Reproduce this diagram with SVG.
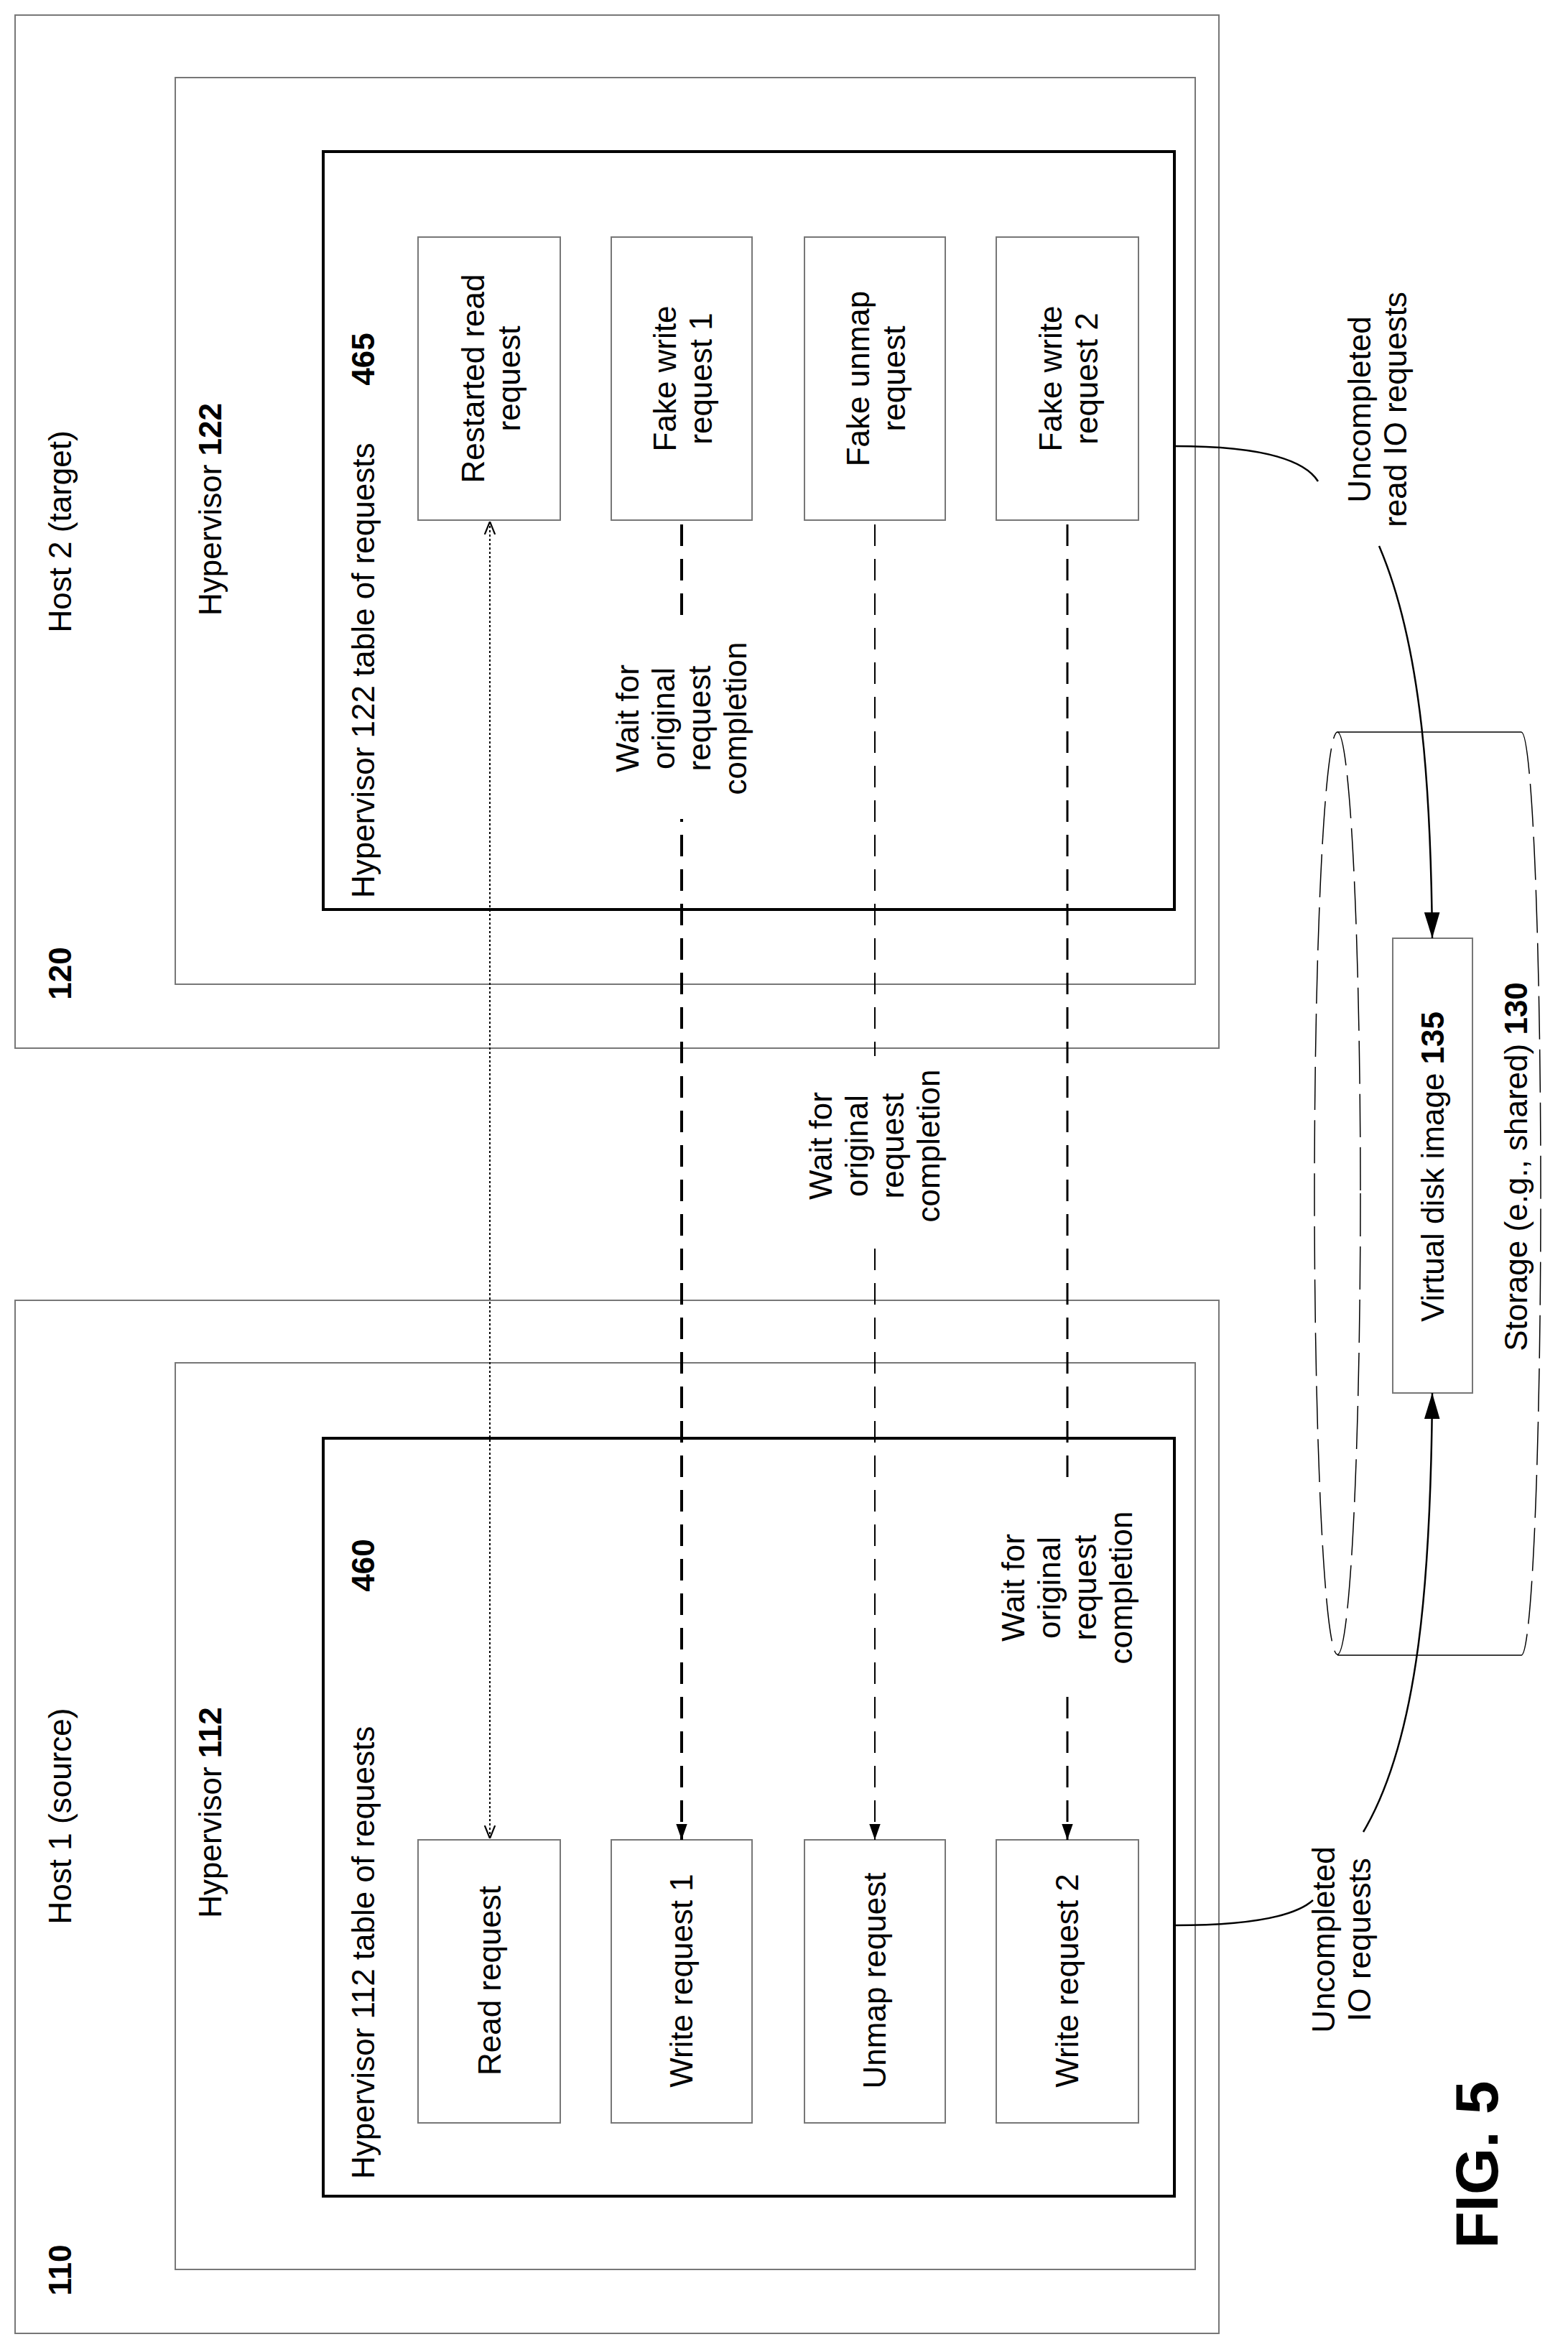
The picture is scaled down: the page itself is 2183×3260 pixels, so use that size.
<svg xmlns="http://www.w3.org/2000/svg" width="2183" height="3260" viewBox="0 0 2183 3260">
<style>
text{font-family:"Liberation Sans",Arial,sans-serif;font-size:44px;fill:#000}
.b{font-weight:bold}
.g{fill:none;stroke:#777;stroke-width:2}
.t{fill:none;stroke:#000;stroke-width:4}
.r{fill:#fff;stroke:#777;stroke-width:2}
.c{fill:none;stroke:#000;stroke-width:2.5}
</style>
<defs>
<marker id="fa" viewBox="0 0 10 10" refX="10" refY="5" markerWidth="36" markerHeight="36" markerUnits="userSpaceOnUse" orient="auto"><path d="M0,2 L10,5 L0,8 Z" fill="#000"/></marker>
<marker id="fa2" viewBox="0 0 10 10" refX="10" refY="5" markerWidth="22" markerHeight="22" markerUnits="userSpaceOnUse" orient="auto"><path d="M0,1.5 L10,5 L0,8.5 Z" fill="#000"/></marker>
<marker id="oa" viewBox="0 0 10 10" refX="10" refY="5" markerWidth="18" markerHeight="18" markerUnits="userSpaceOnUse" orient="auto-start-reverse"><path d="M0,1 L10,5 L0,9" fill="none" stroke="#000" stroke-width="1.2"/></marker>
</defs>
<rect width="2183" height="3260" fill="#fff"/>
<g id="host2">
<rect class="g" x="21" y="21" width="1676" height="1438"/>
<text class="b" transform="translate(99,1355) rotate(-90)" text-anchor="middle">120</text>
<text transform="translate(99,740) rotate(-90)" text-anchor="middle">Host 2 (target)</text>
<rect class="g" x="244" y="108" width="1420" height="1262"/>
<text transform="translate(308,709) rotate(-90)" text-anchor="middle">Hypervisor <tspan class="b">122</tspan></text>
<rect class="t" x="450" y="211" width="1185" height="1055"/>
<text transform="translate(521,1250) rotate(-90)">Hypervisor 122 table of requests</text>
<text class="b" transform="translate(521,500) rotate(-90)" text-anchor="middle">465</text>
</g>
<g id="h2reqs">
<rect class="r" x="582" y="330" width="198" height="394"/>
<text transform="translate(682,527) rotate(-90)" text-anchor="middle"><tspan x="0" y="-8">Restarted read</tspan><tspan x="0" y="42">request</tspan></text>
<rect class="r" x="851" y="330" width="196" height="394"/>
<text transform="translate(949,527) rotate(-90)" text-anchor="middle"><tspan x="0" y="-8">Fake write</tspan><tspan x="0" y="42">request 1</tspan></text>
<rect class="r" x="1120" y="330" width="196" height="394"/>
<text transform="translate(1218,527) rotate(-90)" text-anchor="middle"><tspan x="0" y="-8">Fake unmap</tspan><tspan x="0" y="42">request</tspan></text>
<rect class="r" x="1387" y="330" width="198" height="394"/>
<text transform="translate(1486,527) rotate(-90)" text-anchor="middle"><tspan x="0" y="-8">Fake write</tspan><tspan x="0" y="42">request 2</tspan></text>
</g>
<g id="host1">
<rect class="g" x="21" y="1810" width="1676" height="1438"/>
<text class="b" transform="translate(99,3160) rotate(-90)" text-anchor="middle">110</text>
<text transform="translate(99,2528) rotate(-90)" text-anchor="middle">Host 1 (source)</text>
<rect class="g" x="244" y="1897" width="1420" height="1262"/>
<text transform="translate(308,2523) rotate(-90)" text-anchor="middle">Hypervisor <tspan class="b">112</tspan></text>
<rect class="t" x="450" y="2002" width="1185" height="1055"/>
<text transform="translate(521,3033) rotate(-90)">Hypervisor 112 table of requests</text>
<text class="b" transform="translate(521,2179) rotate(-90)" text-anchor="middle">460</text>
</g>
<g id="h1reqs">
<rect class="r" x="582" y="2561" width="198" height="394"/>
<text transform="translate(697,2757) rotate(-90)" text-anchor="middle">Read request</text>
<rect class="r" x="851" y="2561" width="196" height="394"/>
<text transform="translate(964,2757) rotate(-90)" text-anchor="middle">Write request 1</text>
<rect class="r" x="1120" y="2561" width="196" height="394"/>
<text transform="translate(1233,2757) rotate(-90)" text-anchor="middle">Unmap request</text>
<rect class="r" x="1387" y="2561" width="198" height="394"/>
<text transform="translate(1501,2757) rotate(-90)" text-anchor="middle">Write request 2</text>
</g>
<g id="storage">
<path d="M1862,1019 H2118 M1862,2304 H2118" fill="none" stroke="#000" stroke-width="1.5"/>
<ellipse cx="1862" cy="1661" rx="32" ry="642" fill="none" stroke="#000" stroke-width="1.5" stroke-dasharray="60,14"/>
<path d="M2118,1019 A27,642 0 0 1 2118,2304" fill="none" stroke="#000" stroke-width="1.5" stroke-dasharray="60,14"/>
<rect class="r" x="1939" y="1306" width="111" height="633"/>
<text transform="translate(2010,1624) rotate(-90)" text-anchor="middle">Virtual disk image <tspan class="b">135</tspan></text>
<text transform="translate(2126,1624) rotate(-90)" text-anchor="middle">Storage (e.g., shared)    <tspan class="b">130</tspan></text>
</g>
<g id="connectors">
<line x1="682" y1="726" x2="682" y2="2559" stroke="#000" stroke-width="2" stroke-dasharray="3,3" marker-start="url(#oa)" marker-end="url(#oa)"/>
<line x1="949" y1="730" x2="949" y2="2561" stroke="#000" stroke-width="4" stroke-dasharray="30,18" marker-end="url(#fa2)"/>
<line x1="1218" y1="730" x2="1218" y2="2561" stroke="#000" stroke-width="2" stroke-dasharray="30,18" marker-end="url(#fa2)"/>
<line x1="1486" y1="730" x2="1486" y2="2561" stroke="#000" stroke-width="3" stroke-dasharray="30,18" marker-end="url(#fa2)"/>
<rect x="820" y="860" width="260" height="280" fill="#fff"/>
<text transform="translate(949,1000) rotate(-90)" text-anchor="middle"><tspan x="0" y="-60">Wait for</tspan><tspan x="0" y="-10">original</tspan><tspan x="0" y="40">request</tspan><tspan x="0" y="90">completion</tspan></text>
<rect x="1090" y="1470" width="260" height="260" fill="#fff"/>
<text transform="translate(1218,1595) rotate(-90)" text-anchor="middle"><tspan x="0" y="-60">Wait for</tspan><tspan x="0" y="-10">original</tspan><tspan x="0" y="40">request</tspan><tspan x="0" y="90">completion</tspan></text>
<rect x="1360" y="2070" width="260" height="280" fill="#fff"/>
<text transform="translate(1486,2210) rotate(-90)" text-anchor="middle"><tspan x="0" y="-60">Wait for</tspan><tspan x="0" y="-10">original</tspan><tspan x="0" y="40">request</tspan><tspan x="0" y="90">completion</tspan></text>
<path class="c" d="M1635,621 C1720,621 1810,630 1835,670"/>
<path class="c" d="M1920,760 C1980,900 1992,1100 1994,1306" marker-end="url(#fa)"/>
<text transform="translate(1916,570) rotate(-90)" text-anchor="middle"><tspan x="0" y="-8">Uncompleted</tspan><tspan x="0" y="42">read IO requests</tspan></text>
<path class="c" d="M1635,2680 C1730,2680 1800,2670 1828,2645"/>
<path class="c" d="M1898,2550 C1975,2420 1992,2200 1994,1939" marker-end="url(#fa)"/>
<text transform="translate(1866,2700) rotate(-90)" text-anchor="middle"><tspan x="0" y="-8">Uncompleted</tspan><tspan x="0" y="42">IO requests</tspan></text>
</g>
<text class="b" transform="translate(2085,3013) rotate(-90)" text-anchor="middle" style="font-size:84px">FIG. 5</text>
</svg>
